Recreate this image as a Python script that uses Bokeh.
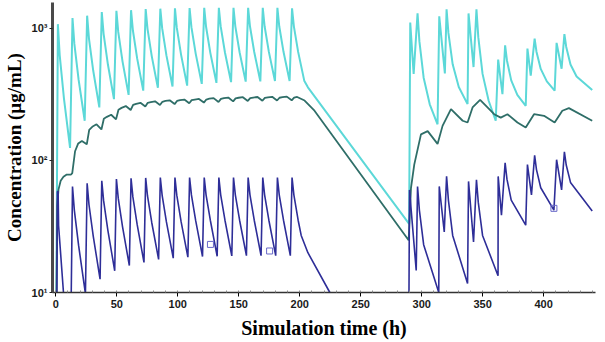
from bokeh.plotting import figure
from bokeh.models import FixedTicker, SingleIntervalTicker, Range1d
from bokeh.embed import file_html
from bokeh.resources import INLINE

# ---- data (time in h, concentration in ug/mL) ----
cyan_t = [0.3, 1.7, 3.2, 6.7, 11.7,
          13.7, 15.2, 18.7, 23.7,
          25.7, 27.2, 30.7, 35.7,
          37.7, 39.2, 42.7, 47.7,
          49.7, 51.2, 54.7, 59.7,
          61.7, 63.2, 66.7, 71.7,
          73.7, 75.2, 78.7, 83.7,
          85.7, 87.2, 90.7, 95.7,
          97.7, 99.2, 102.7, 107.7,
          109.7, 111.2, 114.7, 119.7,
          121.7, 123.2, 126.7, 131.7,
          133.7, 135.2, 138.7, 143.7,
          145.7, 147.2, 150.7, 155.7,
          157.7, 159.2, 162.7, 167.7,
          169.7, 171.2, 174.7, 179.7,
          181.7, 183.2, 186.7, 191.7,
          193.7, 195.2, 198.7, 203.7, 206.7, 289.7,
          290.6, 293.4, 296.6, 298.1, 301.6, 306.6, 313.0,
          314.4, 319.0, 320.4, 321.9, 325.4, 330.4, 337.6,
          338.4, 342.5, 344.9, 346.4, 349.9, 354.9, 360.7,
          362.7, 366.2, 368.4, 369.9, 373.4, 378.4, 385.3,
          386.7, 389.4, 392.6, 394.1, 397.6, 402.6, 409.0,
          410.6, 414.7, 417.0, 418.5, 422.0, 427.0, 439.8]
cyan_v = [5, 1070, 624, 293, 124,
          1190, 762, 407, 199,
          1240, 832, 475, 251,
          1320, 904, 532, 290,
          1350, 935, 560, 312,
          1365, 962, 589, 336,
          1390, 986, 611, 353,
          1400, 998, 621, 361,
          1410, 1007, 630, 367,
          1415, 1016, 641, 378,
          1420, 1023, 649, 385,
          1420, 1028, 653, 390,
          1420, 1030, 656, 393,
          1420, 1031, 659, 395,
          1420, 1032, 660, 397,
          1420, 1032, 661, 398,
          1410, 1030, 660, 400, 356, 33,
          1100, 450, 1290, 796, 421, 265, 187,
          1225, 453, 1387, 918, 532, 358, 266,
          1290, 507, 1387, 853, 450, 282, 199,
          577, 316, 741, 569, 402, 312, 258,
          700, 437, 832, 663, 491, 395, 336,
          773, 492, 900, 720, 530, 430, 340]

teal_t = [0.3, 1.2, 2.2, 4.0, 6.3, 9.0, 12.5, 13.5, 15.8, 18.4, 21.4, 25.4,
          27.4, 29.9, 33.4, 37.4,
          39.4, 41.9, 45.4, 49.4,
          51.4, 53.9, 57.4, 61.4,
          63.4, 65.9, 69.4, 73.4,
          75.4, 77.9, 81.4, 85.4,
          87.4, 89.9, 93.4, 97.4,
          99.4, 101.9, 105.4, 109.4,
          111.4, 113.9, 117.4, 121.4,
          123.4, 125.9, 129.4, 133.4,
          135.4, 137.9, 141.4, 145.4,
          147.4, 149.9, 153.4, 157.4,
          159.4, 161.9, 165.4, 169.4,
          171.4, 173.9, 177.4, 181.4,
          183.4, 185.9, 189.4, 193.4,
          195.4, 197.9, 204.0, 212.1, 289.3,
          291.2, 293.9, 299.4, 304.9, 313.0, 317.1, 324.0, 333.6, 337.6,
          341.7, 347.9, 359.4, 364.8, 370.3, 378.5, 385.3, 392.1, 400.3,
          409.0, 415.3, 420.7, 439.8]
teal_v = [5, 45, 60, 70, 75, 78, 78, 80, 117, 134, 140, 132,
          170, 179, 187, 171,
          206, 213, 221, 204,
          241, 249, 257, 240,
          262, 267, 272, 255,
          272, 275, 279, 262,
          277, 281, 284, 266,
          281, 285, 288, 270,
          285, 288, 291, 273,
          288, 292, 295, 276,
          291, 295, 298, 279,
          294, 297, 300, 281,
          295, 298, 301, 282,
          296, 299, 302, 283,
          297, 300, 303, 284,
          298, 301, 283, 237, 24.8,
          61.5, 92.7, 157, 166, 133, 182, 244, 199, 193,
          251, 286, 223, 210, 223, 193, 177, 223, 217,
          193, 237, 248, 199]

navy_t = [0.5, 1.3, 1.9, 2.3, 6.3, 11.9,
          13.7, 15.2, 18.7, 24.3,
          25.7, 27.2, 30.7, 36.3,
          37.7, 39.2, 42.7, 48.3,
          49.7, 51.2, 54.7, 60.3,
          61.7, 63.2, 66.7, 72.3,
          73.7, 75.2, 78.7, 84.3,
          85.7, 87.2, 90.7, 96.3,
          97.7, 99.2, 102.7, 108.3,
          109.7, 111.2, 114.7, 120.3,
          121.7, 123.2, 126.7, 132.3,
          133.7, 135.2, 138.7, 144.3,
          145.7, 147.2, 150.7, 156.3,
          157.7, 159.2, 162.7, 168.3,
          169.7, 171.2, 174.7, 180.3,
          181.7, 183.2, 186.7, 192.3,
          193.7, 195.2, 198.7, 201.2, 206.7, 224.7, 232.0,
          289.2, 290.0, 295.5, 296.6, 298.1, 301.6, 314.0,
          314.4, 318.5, 320.4, 321.9, 325.4, 337.6,
          338.4, 342.5, 344.9, 346.4, 349.9, 362.6,
          362.7, 365.4, 368.4, 369.9, 373.4, 385.3,
          386.7, 390.0, 392.6, 394.1, 397.6, 408.4,
          410.6, 414.7, 417.0, 418.5, 422.0, 439.8]
navy_v = [2, 58, 58, 32, 10, 2.5,
          63.4, 42, 22.7, 9.8,
          67, 46.3, 26.7, 12.6,
          70, 49.5, 29.5, 14.6,
          72, 51.7, 31.5, 16,
          73, 52.8, 32.7, 16.9,
          73.5, 53.7, 33.7, 17.8,
          74, 54.3, 34.2, 18.2,
          74, 54.5, 34.5, 18.5,
          74, 54.7, 34.9, 18.7,
          74, 54.8, 35.2, 18.8,
          74, 54.8, 35.2, 18.9,
          74, 54.8, 35.2, 19,
          74, 54.8, 35.2, 19,
          74, 54.8, 35.2, 19,
          74, 54.8, 35.2, 19,
          74, 54.8, 35.2, 27, 20, 10, 7,
          2, 59.7, 14.7, 63.3, 42, 23, 10,
          63.4, 28.7, 75.5, 50, 27, 11.7,
          69.2, 24.1, 71.3, 48, 27, 13.4,
          75.5, 38.5, 95.5, 72, 50, 32.3,
          92.7, 54.7, 109, 85, 62, 42,
          101, 59.7, 116, 92, 68, 41.3]

obs_t = [126.8, 175.3, 408.4]
obs_v = [23.1, 20.6, 43.3]

y_ticks = [10, 100, 1000]
y_tick_labels = {10: "10\u00b9", 100: "10\u00b2", 1000: "10\u00b3"}

p = figure(width=605, height=342, y_axis_type="log",
           x_range=Range1d(-2.7, 442.5), y_range=Range1d(10, 1560),
           output_backend="svg", toolbar_location=None,
           min_border_left=51, min_border_right=10, min_border_top=2,
           min_border_bottom=50, background_fill_color="white")
p.outline_line_color = None
p.xgrid.visible = False
p.ygrid.visible = False

p.line(cyan_t, cyan_v, line_color="#5cd8d8", line_width=2)
p.line(teal_t, teal_v, line_color="#2f6e68", line_width=1.8)
p.line(navy_t, navy_v, line_color="#2e2e98", line_width=1.6)
p.scatter(obs_t, obs_v, marker="square", size=6, fill_color=None,
          line_color="#6868c8", line_width=1)

p.yaxis.ticker = FixedTicker(ticks=y_ticks)
p.yaxis.major_label_overrides = y_tick_labels
p.yaxis.axis_line_width = 3
p.yaxis.axis_line_color = "#4a4a4a"
p.yaxis.major_tick_out = 3
p.yaxis.major_tick_in = 0
p.yaxis.major_tick_line_color = "#222222"
p.yaxis.minor_tick_line_color = None
p.yaxis.major_label_standoff = 2
p.yaxis.axis_label = "Concentration (\u00b5g/mL)"
p.yaxis.axis_label_standoff = 4

p.xaxis.ticker = SingleIntervalTicker(interval=50, num_minor_ticks=5)
p.xaxis.axis_line_width = 1.5
p.xaxis.axis_line_color = "#333333"
p.xaxis.major_tick_out = 4
p.xaxis.major_tick_in = 0
p.xaxis.minor_tick_out = 0
p.xaxis.minor_tick_in = 2
p.xaxis.minor_tick_line_color = "#888888"
p.xaxis.major_label_standoff = 3
p.xaxis.axis_label = "Simulation time (h)"
p.xaxis.axis_label_standoff = 6

for ax in (p.xaxis, p.yaxis):
    ax.major_label_text_font = "Liberation Sans"
    ax.major_label_text_font_style = "bold"
    ax.major_label_text_font_size = "11px"
    ax.major_label_text_color = "#1a1a1a"
    ax.axis_label_text_font = "Liberation Serif"
    ax.axis_label_text_font_style = "bold"
    ax.axis_label_text_color = "black"
p.xaxis.axis_label_text_font_size = "20px"
p.yaxis.axis_label_text_font_size = "19px"

open("out.html", "w").write(file_html(p, INLINE))
